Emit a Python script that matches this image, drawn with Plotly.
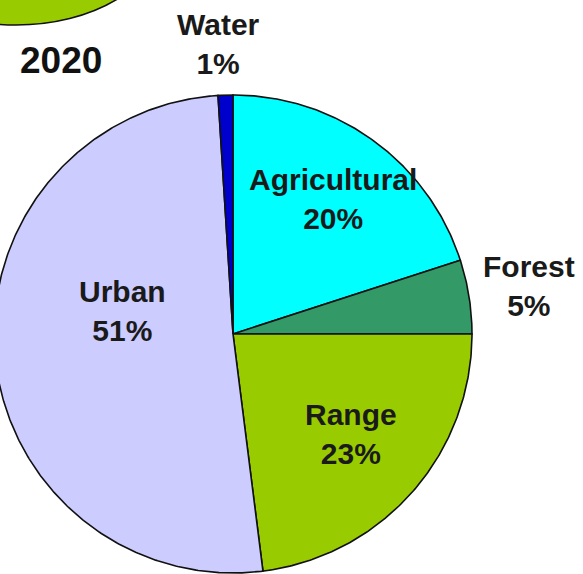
import numpy as np
import plotly.graph_objects as go

# Land use shares in 2020 (percent), listed clockwise from 12 o'clock
categories = ["Agricultural", "Forest", "Range", "Urban", "Water"]
shares = [20, 5, 23, 51, 1]
colors = ["#00ffff", "#339966", "#99cc00", "#ccccff", "#0000cc"]
year_label = "2020"

# Geometry of the pie in figure pixels (axes are set 1 unit = 1 px)
W, H = 583, 574
CX, CY, R = 233, 334, 239

# Label centres (pixels) for each category
label_pos = {
    "Agricultural": (333, 199),
    "Forest": (529, 286),
    "Range": (351, 434),
    "Urban": (122, 311),
    "Water": (218, 44),
}

fig = go.Figure()

total = float(sum(shares))
start = 0.0
for name, val, col in zip(categories, shares, colors):
    sweep = 360.0 * val / total
    theta = np.radians(np.linspace(start, start + sweep, max(8, int(sweep * 2))))
    xs = np.concatenate([[CX], CX + R * np.sin(theta), [CX]])
    ys = np.concatenate([[CY], CY - R * np.cos(theta), [CY]])
    fig.add_trace(go.Scatter(
        x=xs, y=ys, mode="lines", fill="toself", fillcolor=col,
        line=dict(color="#111111", width=1.6), hoverinfo="skip",
        showlegend=False, name=name,
    ))
    start += sweep

# Slice labels
for name, val in zip(categories, shares):
    x, y = label_pos[name]
    fig.add_annotation(
        x=x, y=y, xref="x", yref="y", showarrow=False,
        text=f"{name}<br>{val}%", align="center",
        xanchor="center", yanchor="middle",
        font=dict(family="Liberation Sans, Arial, sans-serif", size=30,
                  color="#1a1a1a", weight="bold"),
    )

# Year heading
fig.add_annotation(
    x=61, y=60, xref="x", yref="y", showarrow=False, text=year_label,
    xanchor="center", yanchor="middle",
    font=dict(family="Liberation Sans, Arial, sans-serif", size=37,
              color="#111111", weight="bold"),
)

# Edge of the neighbouring chart peeking in at the top-left corner
fig.add_shape(
    type="circle", xref="x", yref="y",
    x0=-130, x1=162, y0=-160, y1=25,
    fillcolor="#99cc00", line=dict(color="#111111", width=1.6),
    layer="below",
)

fig.update_xaxes(range=[0, W], visible=False, fixedrange=True)
fig.update_yaxes(range=[H, 0], visible=False, fixedrange=True)
fig.update_layout(
    width=W, height=H,
    margin=dict(l=0, r=0, t=0, b=0),
    paper_bgcolor="white", plot_bgcolor="white",
    showlegend=False,
)

fig.write_html("out.html")
